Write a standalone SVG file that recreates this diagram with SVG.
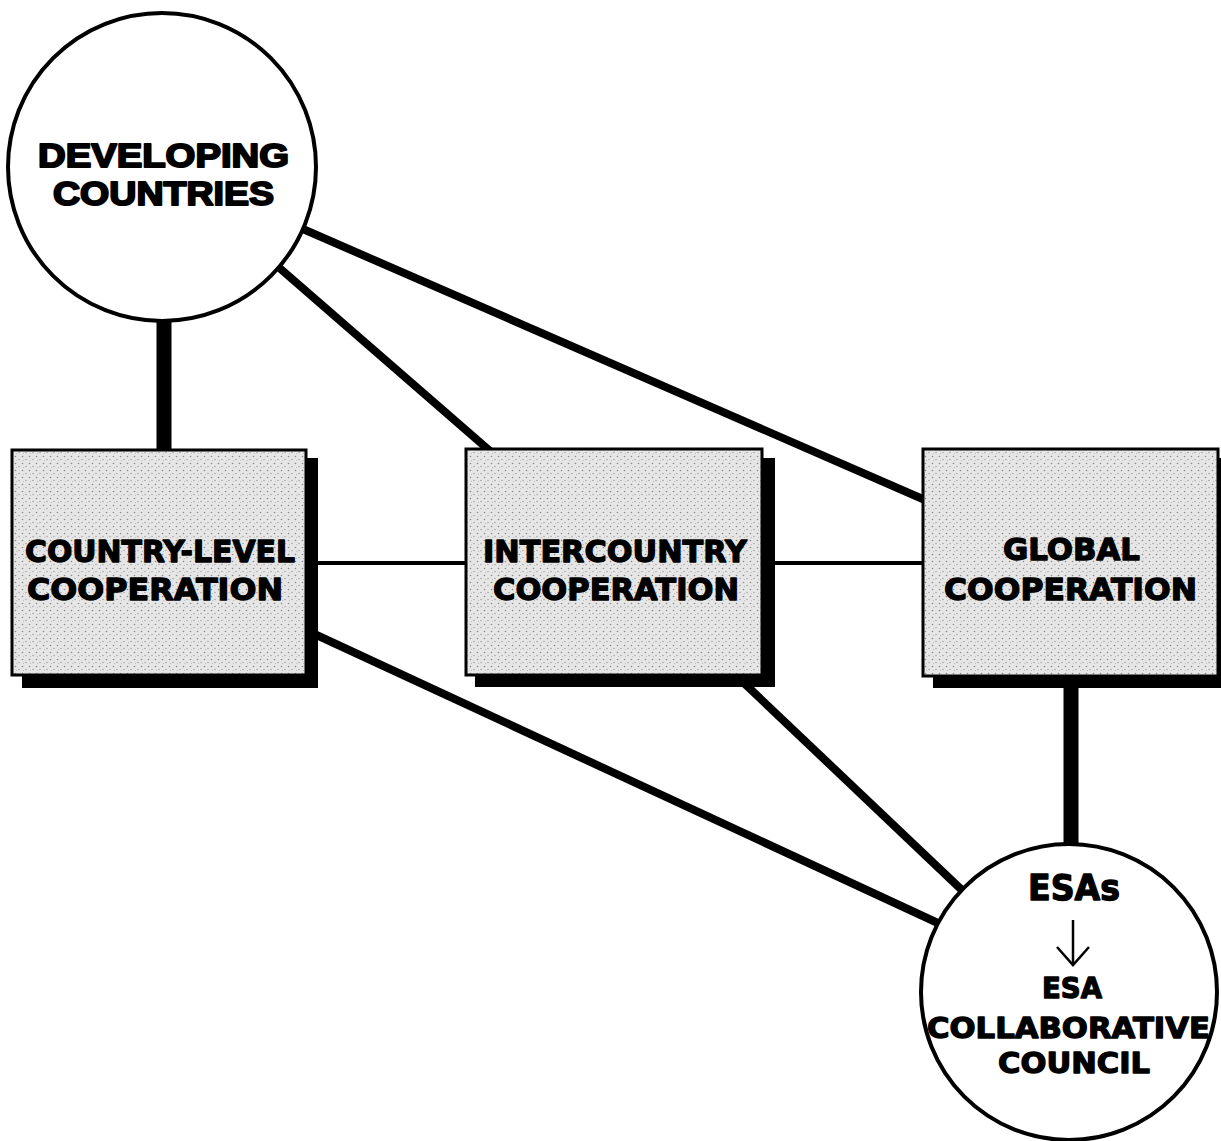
<svg xmlns="http://www.w3.org/2000/svg" width="1221" height="1141" viewBox="0 0 1221 1141">
<style>
.lbl{font-family:"DejaVu Sans","Liberation Sans",sans-serif;font-weight:bold;fill:#000;stroke:#000;stroke-width:1.3;stroke-linejoin:round}
.lbl2{font-family:"Liberation Sans","DejaVu Sans",sans-serif;font-weight:bold;fill:#000;stroke:#000;stroke-width:2;stroke-linejoin:round}
.box{fill:url(#stip);stroke:#000;stroke-width:3}
.shadow{fill:#000}
.circ{fill:#fff;stroke:#000;stroke-width:4}
.c-thick{stroke:#000;stroke-width:15;fill:none}
.c-mid{stroke:#000;stroke-width:8;fill:none}
.c-thin{stroke:#000;stroke-width:4;fill:none}
</style>
<defs>
<pattern id="stip" width="7" height="7" patternUnits="userSpaceOnUse">
<rect width="7" height="7" fill="#e6e6e6"/>
<circle cx="1.5" cy="1.5" r="0.8" fill="#8a8a8a"/>
<circle cx="5" cy="4.5" r="0.7" fill="#9a9a9a"/>
<circle cx="2.5" cy="5.5" r="0.5" fill="#b0b0b0"/>
</pattern>
</defs>
<rect width="1221" height="1141" fill="#fff"/>
<g id="connectors">
<line class="c-thick" x1="164" y1="300" x2="164" y2="452"/>
<line class="c-mid" x1="268" y1="258" x2="490" y2="451"/>
<line class="c-mid" x1="296" y1="226" x2="925" y2="500"/>
<line class="c-thin" x1="310" y1="563" x2="468" y2="563"/>
<line class="c-thin" x1="765" y1="563" x2="925" y2="563"/>
<line class="c-mid" x1="310" y1="632" x2="940" y2="924"/>
<line class="c-mid" x1="745" y1="684" x2="965" y2="893"/>
<line class="c-thick" x1="1071" y1="684" x2="1071" y2="860"/>
</g>
<g id="node-developing">
<circle class="circ" cx="162" cy="167" r="154"/>
<text class="lbl2" x="38" y="167" font-size="34" textLength="251" lengthAdjust="spacingAndGlyphs">DEVELOPING</text>
<text class="lbl2" x="53" y="205" font-size="34" textLength="221" lengthAdjust="spacingAndGlyphs">COUNTRIES</text>
</g>
<g id="node-country">
<rect class="shadow" x="22" y="458" width="296" height="230"/>
<rect class="box" x="12" y="450" width="294" height="225"/>
<text class="lbl" x="25" y="562" font-size="31" textLength="270" lengthAdjust="spacingAndGlyphs">COUNTRY-LEVEL</text>
<text class="lbl" x="27" y="600" font-size="31" textLength="256" lengthAdjust="spacingAndGlyphs">COOPERATION</text>
</g>
<g id="node-intercountry">
<rect class="shadow" x="475" y="458" width="300" height="229"/>
<rect class="box" x="466" y="449" width="296" height="226"/>
<text class="lbl" x="483" y="562" font-size="31" textLength="264" lengthAdjust="spacingAndGlyphs">INTERCOUNTRY</text>
<text class="lbl" x="493" y="600" font-size="31" textLength="246" lengthAdjust="spacingAndGlyphs">COOPERATION</text>
</g>
<g id="node-global">
<rect class="shadow" x="933" y="458" width="288" height="230"/>
<rect class="box" x="923" y="449" width="295" height="227"/>
<text class="lbl" x="1003" y="560" font-size="31" textLength="137" lengthAdjust="spacingAndGlyphs">GLOBAL</text>
<text class="lbl" x="944" y="600" font-size="31" textLength="253" lengthAdjust="spacingAndGlyphs">COOPERATION</text>
</g>
<g id="node-esa">
<circle class="circ" cx="1069" cy="992" r="148"/>
<text class="lbl" x="1028" y="900" font-size="35" textLength="92" lengthAdjust="spacingAndGlyphs">ESAs</text>
<line x1="1073" y1="920" x2="1073" y2="964" stroke="#000" stroke-width="2.5"/>
<polyline points="1057,947 1073,965 1089,947" fill="none" stroke="#000" stroke-width="2.5"/>
<text class="lbl" x="1042" y="998" font-size="29" textLength="60" lengthAdjust="spacingAndGlyphs">ESA</text>
<text class="lbl" x="927" y="1038" font-size="29" textLength="283" lengthAdjust="spacingAndGlyphs">COLLABORATIVE</text>
<text class="lbl" x="998" y="1073" font-size="29" textLength="152" lengthAdjust="spacingAndGlyphs">COUNCIL</text>
</g>
</svg>
